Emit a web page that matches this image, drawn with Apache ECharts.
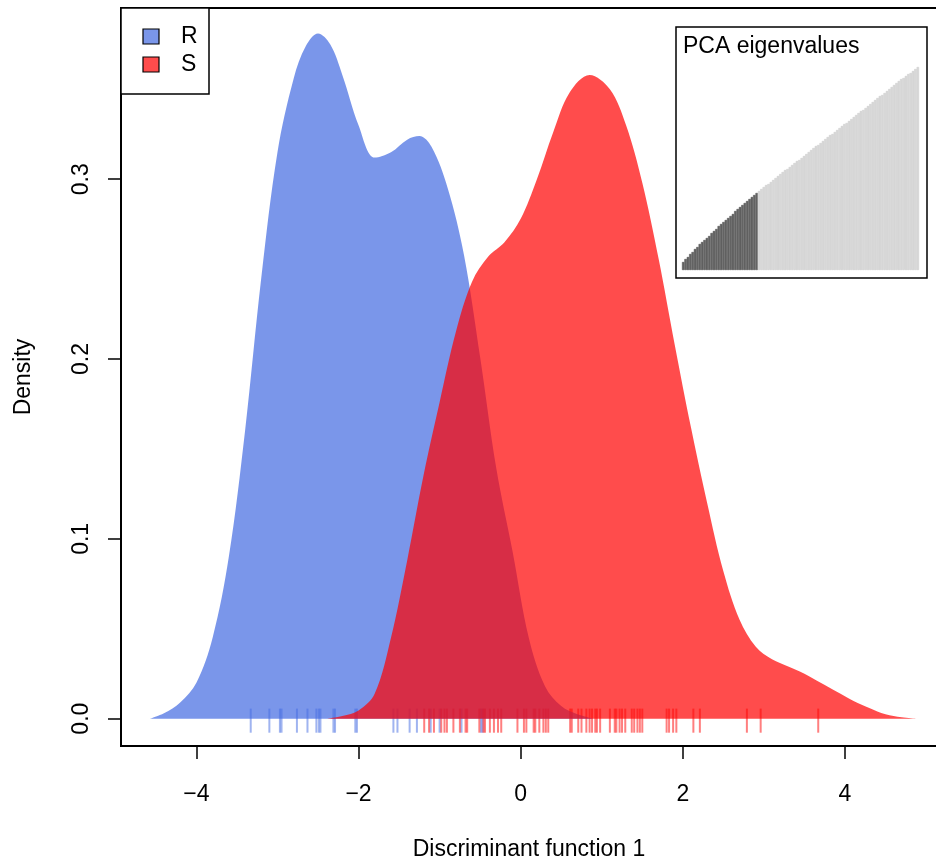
<!DOCTYPE html>
<html>
<head>
<meta charset="utf-8">
<script src="https://cdn.jsdelivr.net/npm/echarts@6/dist/echarts.min.js"></script>
<style>
html, body { margin: 0; padding: 0; background: #fff; }
#chart { width: 936px; height: 863px; }
</style>
</head>
<body>
<div id="chart"></div>
<script>
// density of discriminant function 1 per group
var densR = [
    [-4.57, 0], [-4.4, 0.003], [-4.2, 0.009], [-4.0, 0.02], [-3.8, 0.045],
    [-3.6, 0.09], [-3.4, 0.16], [-3.2, 0.245], [-3.0, 0.315], [-2.8, 0.356],
    [-2.65, 0.374], [-2.5, 0.381], [-2.35, 0.375], [-2.2, 0.358], [-2.0, 0.330],
    [-1.8, 0.312], [-1.6, 0.315], [-1.4, 0.322], [-1.25, 0.324], [-1.1, 0.318],
    [-0.9, 0.295], [-0.7, 0.258], [-0.5, 0.201], [-0.3, 0.139], [-0.1, 0.093],
    [0.1, 0.045], [0.3, 0.018], [0.5, 0.007], [0.7, 0.0025], [0.9, 0]
];
var densS = [
    [-2.39, 0], [-2.2, 0.0015], [-2.0, 0.0045], [-1.8, 0.014], [-1.6, 0.045],
    [-1.4, 0.088], [-1.2, 0.135], [-1.0, 0.176], [-0.8, 0.215], [-0.6, 0.243],
    [-0.4, 0.257], [-0.2, 0.265], [0.0, 0.278], [0.2, 0.300], [0.4, 0.326],
    [0.6, 0.348], [0.85, 0.358], [1.1, 0.350], [1.3, 0.330],
    [1.5, 0.298], [1.7, 0.256], [1.9, 0.208], [2.1, 0.162], [2.3, 0.12],
    [2.5, 0.082], [2.7, 0.055], [2.9, 0.040], [3.1, 0.033], [3.3, 0.029],
    [3.5, 0.025], [3.7, 0.020], [3.9, 0.015], [4.1, 0.010], [4.3, 0.006],
    [4.5, 0.0025], [4.7, 0.0008], [4.88, 0]
];

// individual scores (rug)
var rugR = [-3.33, -3.10, -2.97, -2.95, -2.76, -2.63, -2.52, -2.49, -2.47, -2.31,
    -2.29, -2.04, -2.02, -1.57, -1.52, -1.37, -1.28, -1.11, -1.00, -0.73, -0.49, -0.47];
var rugS = [-1.19, -1.13, -1.07, -0.98, -0.94, -0.91, -0.83, -0.75, -0.68, -0.66,
    -0.51, -0.46, -0.44, -0.38, -0.33, -0.28, -0.24, -0.04, 0.04, 0.07,
    0.16, 0.18, 0.23, 0.28, 0.31, 0.34, 0.61, 0.63, 0.71, 0.75,
    0.81, 0.85, 0.88, 0.92, 0.94, 0.98, 1.10, 1.16, 1.18, 1.22,
    1.25, 1.29, 1.37, 1.40, 1.44, 1.47, 1.50, 1.80, 1.83, 1.88,
    1.92, 2.13, 2.21, 2.79, 2.96, 3.67];

// inset: PCA eigenvalues (cumulative), first nRetained kept
var eigenvalues = [8, 11, 13, 16, 18, 21, 23, 26, 28, 30,
    32, 34, 37, 39, 41, 44, 46, 48, 50, 52,
    54, 56, 59, 61, 63, 65, 67, 69, 71, 73,
    75, 77, 79, 81, 83, 85, 86, 88, 90, 92,
    94, 96, 98, 100, 101, 103, 105, 107, 109, 110,
    112, 114, 116, 118, 120, 122, 124, 125, 127, 129,
    131, 133, 135, 136, 138, 140, 142, 144, 146, 147,
    149, 151, 153, 155, 157, 159, 160, 162, 164, 166,
    168, 170, 172, 174, 175, 177, 179, 181, 183, 185,
    187, 189, 191, 192, 194, 196, 197, 199, 201, 203];
var nRetained = 32;

var xTicks = [-4, -2, 0, 2, 4];
var yTicks = [0, 0.1, 0.2, 0.3];

var colR = 'rgba(65,105,225,0.7)';
var colS = 'rgba(255,0,0,0.7)';
var rugColR = 'rgba(65,105,225,0.5)';
var rugColS = 'rgba(255,0,0,0.5)';
var font = 'Liberation Sans, Arial, Helvetica, sans-serif';

function rugSeries(values, color) {
    return {
        type: 'custom',
        xAxisIndex: 0,
        yAxisIndex: 0,
        data: values.map(function (v) { return [v, 0]; }),
        encode: { x: 0, y: 1 },
        renderItem: function (params, api) {
            var top = api.coord([api.value(0), 0.0056]);
            var bot = api.coord([api.value(0), -0.0078]);
            return {
                type: 'line',
                shape: { x1: top[0], y1: top[1], x2: bot[0], y2: bot[1] },
                style: { stroke: color, lineWidth: 2 }
            };
        },
        silent: true
    };
}

function densSeries(data, color) {
    return {
        type: 'line',
        xAxisIndex: 0,
        yAxisIndex: 0,
        data: data,
        smooth: 0.35,
        smoothMonotone: 'none',
        symbol: 'none',
        lineStyle: { width: 0, opacity: 0 },
        areaStyle: { color: color, opacity: 1 },
        silent: true
    };
}

var eigenData = eigenvalues.map(function (v, i) {
    var kept = i < nRetained;
    return {
        value: v,
        itemStyle: {
            color: kept ? '#666666' : '#d9d9d9',
            borderColor: kept ? '#4a4a4a' : '#cbcbcb',
            borderWidth: 0.5
        }
    };
});

var myChart = echarts.init(document.getElementById('chart'), null, { renderer: 'canvas' });

var option = {
    backgroundColor: '#fff',
    animation: false,
    textStyle: { fontFamily: font },
    grid: [{
        left: 121, top: 8, right: -1, bottom: 117,
        outerBoundsMode: 'none',
        show: true, borderColor: '#000', borderWidth: 2, backgroundColor: 'transparent'
    }, {
        left: 682, top: 66, width: 237, height: 204,
        outerBoundsMode: 'none'
    }],
    xAxis: [{
        type: 'value',
        gridIndex: 0,
        min: -4.93,
        max: 5.135,
        splitLine: { show: false },
        axisLine: { show: false, onZero: false },
        axisTick: { show: true, length: 13, customValues: xTicks, lineStyle: { color: '#000', width: 1.5 } },
        axisLabel: {
            customValues: xTicks, margin: 37, fontSize: 23, color: '#000', fontFamily: font,
            formatter: function (v) { return String(v).replace('-', '\u2212'); }
        },
        name: 'Discriminant function 1',
        nameLocation: 'middle',
        nameGap: 92,
        nameTextStyle: { fontSize: 23, color: '#000', fontFamily: font }
    }, {
        type: 'category',
        gridIndex: 1,
        data: eigenvalues.map(function (v, i) { return i + 1; }),
        show: false
    }],
    yAxis: [{
        type: 'value',
        gridIndex: 0,
        min: -0.0152,
        max: 0.3952,
        splitLine: { show: false },
        axisLine: { show: false, onZero: false },
        axisTick: { show: true, length: 13, customValues: yTicks, lineStyle: { color: '#000', width: 1.5 } },
        axisLabel: {
            customValues: yTicks, rotate: 90, margin: 28, fontSize: 23, color: '#000', fontFamily: font,
            formatter: function (v) { return v.toFixed(1); }
        },
        name: 'Density',
        nameLocation: 'middle',
        nameGap: 86,
        nameTextStyle: { fontSize: 23, color: '#000', fontFamily: font }
    }, {
        type: 'value',
        gridIndex: 1,
        min: 0,
        max: 204,
        show: false
    }],
    series: [
        densSeries(densR, colR),
        rugSeries(rugR, rugColR),
        densSeries(densS, colS),
        rugSeries(rugS, rugColS),
        {
            type: 'bar',
            xAxisIndex: 1,
            yAxisIndex: 1,
            data: eigenData,
            barCategoryGap: '0%',
            silent: true,
            z: 10
        }
    ],
    graphic: [
        // legend
        { type: 'rect', shape: { x: 121, y: 8, width: 88, height: 86 },
          style: { fill: '#fff', stroke: '#000', lineWidth: 1.5 }, z: 5 },
        { type: 'rect', shape: { x: 143, y: 29, width: 16, height: 15 },
          style: { fill: colR, stroke: '#000', lineWidth: 1.2 }, z: 6 },
        { type: 'rect', shape: { x: 143, y: 57, width: 16, height: 15 },
          style: { fill: colS, stroke: '#000', lineWidth: 1.2 }, z: 6 },
        { type: 'text', x: 181, y: 37, z: 6,
          style: { text: 'R', fontSize: 23, fontFamily: font, fill: '#000', verticalAlign: 'middle' } },
        { type: 'text', x: 181, y: 65, z: 6,
          style: { text: 'S', fontSize: 23, fontFamily: font, fill: '#000', verticalAlign: 'middle' } },
        // inset frame
        { type: 'rect', shape: { x: 676, y: 27, width: 251, height: 251 },
          style: { fill: '#fff', stroke: '#000', lineWidth: 1.5 }, z: 5 },
        { type: 'text', x: 683, y: 47, z: 6,
          style: { text: 'PCA eigenvalues', fontSize: 23, fontFamily: font, fill: '#000', verticalAlign: 'middle' } }
    ]
};

myChart.setOption(option);
</script>
</body>
</html>
